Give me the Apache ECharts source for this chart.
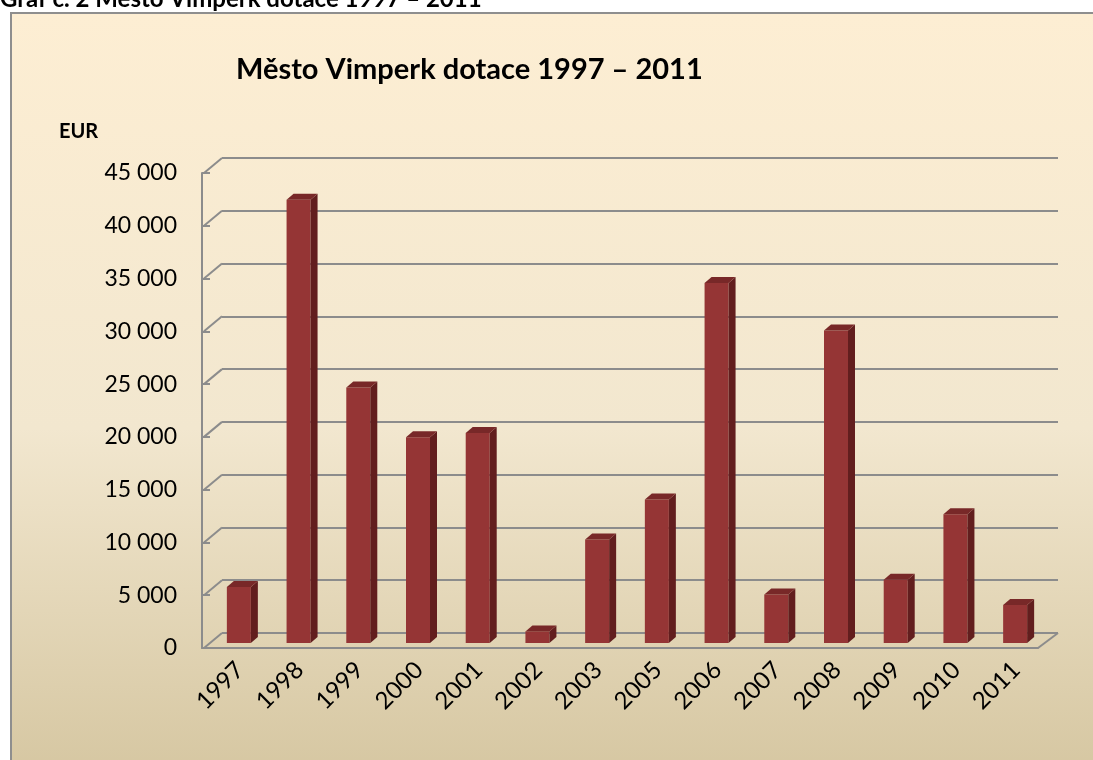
<!DOCTYPE html>
<html>
<head>
<meta charset="utf-8">
<script src="https://cdn.jsdelivr.net/npm/echarts@6/dist/echarts.min.js"></script>
<style>
  html, body { margin: 0; padding: 0; background: #fff; overflow: hidden; }
  #box {
    position: absolute; left: 10px; top: 12px; width: 1300px; height: 800px;
    border: 2px solid #8e8e8e; box-sizing: border-box;
    background: linear-gradient(to bottom, #fdeed3 0%, #f2e7cf 52%, #d6c7a2 95%);
  }
  #main { position: absolute; left: 0; top: 0; width: 1093px; height: 760px; }
</style>
</head>
<body>
<div id="box"></div>
<div id="main"></div>
<script>
// roky (2004 v grafu chybí)
var years = ['1997', '1998', '1999', '2000', '2001', '2002', '2003', '2005', '2006', '2007', '2008', '2009', '2010', '2011'];
// dotace v EUR
var dotace = [5300, 42000, 24200, 19500, 19900, 1100, 9800, 13600, 34100, 4600, 29600, 6000, 12200, 3600];
// hodnoty osy y
var yTicks = [0, 5000, 10000, 15000, 20000, 25000, 30000, 35000, 40000, 45000];

var FONT = 'Lato, "Open Sans", sans-serif';
var gridColor = '#8c8c8c';
// posun zadní stěny a hloubky sloupců (3D vzhled)
var BACK_DX = 20, BACK_DY = -15;
var BAR_DX = 7, BAR_DY = -5, BAR_W = 24, BAR_DEPTH_X = 7, BAR_DEPTH_Y = -6;

var myChart = echarts.init(document.getElementById('main'), null, { renderer: 'canvas' });

function fmt(v) {
    return String(v).replace(/\B(?=(\d{3})+(?!\d))/g, ' ');
}

myChart.setOption({
    backgroundColor: 'transparent',
    animation: false,
    title: {
        text: 'Město Vimperk dotace 1997 – 2011',
        left: 231,
        top: 50,
        textStyle: { fontFamily: FONT, fontSize: 29, fontWeight: 'bold', color: '#000' }
    },
    graphic: [
        {
            type: 'text', left: 0, top: -13,
            style: { text: 'Graf č. 2 Město Vimperk dotace 1997 – 2011', font: 'bold 24px ' + FONT, fill: '#000' }
        },
        {
            type: 'text', left: 59, top: 122,
            style: { text: 'EUR', font: 'bold 20px ' + FONT, fill: '#000' }
        }
    ],
    grid: [
        // přední rovina
        { left: 202, top: 173, width: 836, height: 475 },
        // zadní stěna
        { left: 202 + BACK_DX, top: 173 + BACK_DY, width: 836, height: 475 },
        // popisky let
        { left: 210, top: 173, width: 836, height: 475 }
    ],
    xAxis: [
        {
            type: 'category',
            gridIndex: 0,
            data: years,
            axisTick: { show: false },
            axisLine: { show: true, lineStyle: { color: gridColor, width: 2 } },
            axisLabel: { show: false }
        },
        {
            type: 'category',
            gridIndex: 1,
            data: years,
            show: false
        },
        {
            type: 'category',
            gridIndex: 2,
            data: years,
            axisTick: { show: false },
            axisLine: { show: false },
            axisLabel: { rotate: 45, margin: 18, fontFamily: FONT, fontSize: 24, color: '#000' }
        }
    ],
    yAxis: [
        {
            type: 'value',
            gridIndex: 0,
            min: 0,
            max: 45000,
            interval: 5000,
            splitLine: { show: false },
            axisLine: { show: true, lineStyle: { color: gridColor, width: 2 } },
            axisTick: { show: true, inside: true, length: 8, lineStyle: { color: gridColor, width: 2 } },
            axisLabel: {
                margin: 25, fontFamily: FONT, fontSize: 23, color: '#000',
                formatter: function (v) { return fmt(v); }
            }
        },
        {
            type: 'value',
            gridIndex: 1,
            min: 0,
            max: 45000,
            interval: 5000,
            axisLine: { show: false },
            axisTick: { show: false },
            axisLabel: { show: false },
            splitLine: { show: true, lineStyle: { color: gridColor, width: 2 } }
        },
        {
            type: 'value',
            gridIndex: 2,
            min: 0,
            max: 45000,
            interval: 5000,
            show: false
        }
    ],
    series: [
        {
            // boční stěna a podlaha
            type: 'custom',
            xAxisIndex: 0,
            yAxisIndex: 0,
            silent: true,
            data: yTicks.map(function (v) { return [0, v]; }),
            renderItem: function (params, api) {
                var cs = params.coordSys;
                var y = api.coord([0, api.value(1)])[1];
                var style = { stroke: gridColor, lineWidth: 2, fill: null };
                var children = [{
                    type: 'line',
                    shape: { x1: cs.x + 2, y1: y, x2: cs.x + BACK_DX, y2: y + BACK_DY },
                    style: style
                }];
                if (api.value(1) === 0) {
                    children.push({
                        type: 'line',
                        shape: { x1: cs.x + cs.width, y1: y, x2: cs.x + cs.width + BACK_DX, y2: y + BACK_DY },
                        style: style
                    });
                }
                return { type: 'group', children: children };
            }
        },
        {
            // sloupce
            type: 'custom',
            xAxisIndex: 0,
            yAxisIndex: 0,
            data: dotace.map(function (v, i) { return [i, v]; }),
            renderItem: function (params, api) {
                var i = api.value(0);
                var base = api.coord([i, 0]);
                var top = api.coord([i, api.value(1)]);
                var l = base[0] + BAR_DX - BAR_W / 2;
                var r = l + BAR_W;
                var b = base[1] + BAR_DY;
                var t = top[1] + BAR_DY;
                return {
                    type: 'group',
                    children: [
                        {
                            type: 'rect',
                            shape: { x: l, y: t, width: BAR_W, height: b - t },
                            style: { fill: '#953535' }
                        },
                        {
                            type: 'polygon',
                            shape: { points: [[r, b], [r, t], [r + BAR_DEPTH_X, t + BAR_DEPTH_Y], [r + BAR_DEPTH_X, b + BAR_DEPTH_Y]] },
                            style: { fill: '#621e1e' }
                        },
                        {
                            type: 'polygon',
                            shape: { points: [[l, t], [r, t], [r + BAR_DEPTH_X, t + BAR_DEPTH_Y], [l + BAR_DEPTH_X, t + BAR_DEPTH_Y]] },
                            style: { fill: '#782828' }
                        }
                    ]
                };
            }
        }
    ]
});

window.addEventListener('resize', function () {
    myChart.resize();
});
</script>
</body>
</html>
